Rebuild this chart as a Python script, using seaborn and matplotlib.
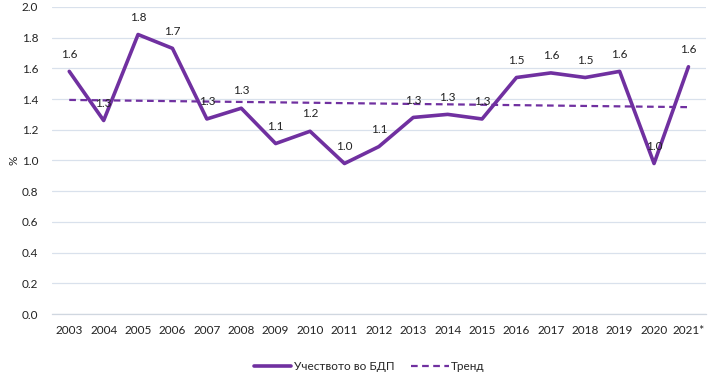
import numpy as np
import pandas as pd
import matplotlib.pyplot as plt
import seaborn as sns

# data
years = ['2003', '2004', '2005', '2006', '2007', '2008', '2009', '2010', '2011', '2012',
         '2013', '2014', '2015', '2016', '2017', '2018', '2019', '2020', '2021*']
share_gdp = [1.58, 1.26, 1.82, 1.73, 1.27, 1.34, 1.11, 1.19, 0.98, 1.09,
             1.28, 1.30, 1.27, 1.54, 1.57, 1.54, 1.58, 0.98, 1.61]
series_name = 'Учеството во БДП'
trend_name = 'Тренд'
yticks = [0.0, 0.2, 0.4, 0.6, 0.8, 1.0, 1.2, 1.4, 1.6, 1.8, 2.0]

purple = '#7030A0'

sns.set_style('white')
plt.rcParams['font.family'] = ['Lato', 'DejaVu Sans']

df = pd.DataFrame({'pos': np.arange(len(years)), 'value': share_gdp})
# linear trend line (like the spreadsheet trendline)
coef = np.polyfit(df['pos'], df['value'], 1)
df['trend'] = np.polyval(coef, df['pos'])

fig = plt.figure(figsize=(7.23, 3.82), dpi=100)
ax = fig.add_axes([0.072, 0.178, 0.904, 0.804])

sns.lineplot(data=df, x='pos', y='value', ax=ax, color=purple, linewidth=2.6,
             label=series_name)
sns.lineplot(data=df, x='pos', y='trend', ax=ax, color=purple, linewidth=1.6,
             linestyle=(0, (3, 2)), label=trend_name)

for x, v in zip(df['pos'], df['value']):
    ax.annotate(f'{v:.1f}', (x, v), xytext=(0, 8.5), textcoords='offset points',
                ha='center', va='bottom', fontsize=8.5, color='#222222')

ax.set_xlim(-0.5, len(years) - 0.5)
ax.set_ylim(0, 2.0)
ax.set_yticks(yticks)
ax.set_yticklabels([f'{t:.1f}' for t in yticks])
ax.set_xticks(df['pos'])
ax.set_xticklabels(years)
ax.set_xticks(np.arange(-0.5, len(years)), minor=True)
ax.tick_params(axis='both', which='major', length=0, labelsize=8.5, colors='#222222')
ax.tick_params(axis='x', which='major', pad=8)
ax.tick_params(axis='y', which='major', pad=10)
ax.tick_params(axis='x', which='minor', length=4, color='#D0D7E0', width=0.8)
ax.grid(axis='y', color='#D9E1EC', linewidth=0.9)
ax.set_axisbelow(True)

for side in ['top', 'right', 'left']:
    ax.spines[side].set_visible(False)
ax.spines['bottom'].set_color('#D0D7E0')
ax.spines['bottom'].set_linewidth(0.9)

ax.set_xlabel('')
ax.set_ylabel('%', fontsize=8.5, color='#222222', labelpad=1.5)

ax.legend(loc='upper center', bbox_to_anchor=(0.485, -0.12), ncol=2, frameon=False,
          fontsize=8.5, handlelength=3.2, columnspacing=1.4, handletextpad=0.2)

fig.savefig('out.png', dpi=100)
